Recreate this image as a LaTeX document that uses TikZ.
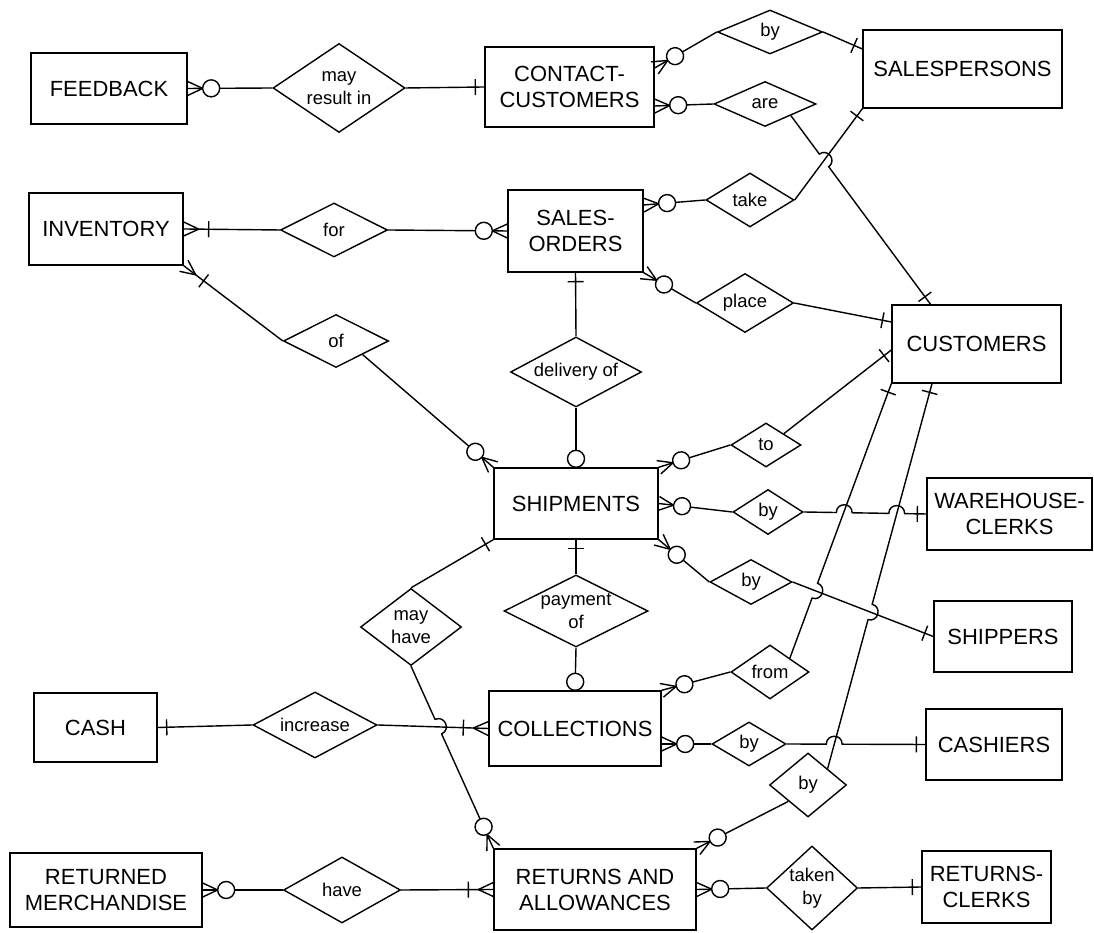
\documentclass[tikz,border=0pt]{standalone}
\usepackage{fontspec}
\setmainfont{Liberation Sans}
\usepackage{tikz}
\usetikzlibrary{calc,positioning,shapes.geometric,decorations.markings}
\newcommand\enfont{\fontsize{12.5}{14.8}\selectfont}
\newcommand\relfont{\fontsize{10.5}{13}\selectfont}
\begin{document}
\begin{tikzpicture}[x=0.02cm,y=0.02cm,line width=0.8pt]
    \tikzstyle{ent}=[rectangle,draw,font=\enfont,align=center,inner sep=0]
    \tikzstyle{rel}=[diamond,draw,font=\relfont,align=center,inner sep=0,aspect=1.6]
    \tikzstyle{hopl}=[bend left=90,looseness=1.7]
    \tikzstyle{hopr}=[bend right=90,looseness=1.7]
    \tikzstyle{one}=[postaction={decorate,decoration={markings,mark=at position 1 with {\draw (-0.18cm,-0.16cm) -- (-0.18cm,0.16cm);}}}]
    \tikzstyle{zero}=[postaction={decorate,decoration={markings,mark=at position 1 with {\draw[fill=white] (-0.17cm,0) circle (0.17cm);}}}]
    \tikzstyle{zmany}=[postaction={decorate,decoration={markings,mark=at position 1 with {\draw (-0.3cm,0) -- (0,0.14cm) (-0.3cm,0) -- (0,-0.14cm); \draw[fill=white] (-0.47cm,0) circle (0.17cm);}}}]
    \tikzstyle{omany}=[postaction={decorate,decoration={markings,mark=at position 1 with {\draw (-0.3cm,0) -- (0,0.14cm) (-0.3cm,0) -- (0,-0.14cm); \draw (-0.5cm,-0.16cm) -- (-0.5cm,0.16cm);}}}]
    \useasboundingbox (0,0) rectangle (1094,932);
    % entities
    \node[ent,minimum width=3.12cm,minimum height=1.42cm] (fb) at (109,843.5) {FEEDBACK};
    \node[ent,minimum width=3.38cm,minimum height=1.6cm] (cc) at (569.5,845) {CONTACT-\\CUSTOMERS};
    \node[ent,minimum width=3.98cm,minimum height=1.56cm] (sp) at (962.5,863) {SALESPERSONS};
    \node[ent,minimum width=3.08cm,minimum height=1.44cm] (inv) at (106,703) {INVENTORY};
    \node[ent,minimum width=2.7cm,minimum height=1.64cm] (so) at (575.5,701) {SALES-\\ORDERS};
    \node[ent,minimum width=3.38cm,minimum height=1.56cm] (cu) at (976.5,588) {CUSTOMERS};
    \node[ent,minimum width=3.28cm,minimum height=1.42cm] (sh) at (576,428.5) {SHIPMENTS};
    \node[ent,minimum width=3.3cm,minimum height=1.44cm] (wc) at (1009.5,418) {WAREHOUSE-\\CLERKS};
    \node[ent,minimum width=2.76cm,minimum height=1.42cm] (shp) at (1003,295.5) {SHIPPERS};
    \node[ent,minimum width=2.46cm,minimum height=1.38cm] (cash) at (95.5,204.5) {CASH};
    \node[ent,minimum width=3.44cm,minimum height=1.5cm] (col) at (575,203.5) {COLLECTIONS};
    \node[ent,minimum width=2.72cm,minimum height=1.42cm] (cas) at (994,187.5) {CASHIERS};
    \node[ent,minimum width=3.84cm,minimum height=1.48cm] (rm) at (106,42) {RETURNED\\MERCHANDISE};
    \node[ent,minimum width=4.04cm,minimum height=1.62cm] (ra) at (595,42.5) {RETURNS AND\\ALLOWANCES};
    \node[ent,minimum width=2.58cm,minimum height=1.44cm] (rc) at (986.5,45) {RETURNS-\\CLERKS};
    % relationships
    \node[rel,minimum width=2.64cm,minimum height=1.78cm,aspect=1.48] (rmri) at (339,844) {may\\result in};
    \node[rel,minimum width=2.1cm,minimum height=0.88cm] (rcby) at (770,900) {by};
    \node[rel,minimum width=2.04cm,minimum height=0.9cm] (rare) at (765,828) {are};
    \node[rel,minimum width=2.14cm,minimum height=1.08cm] (rfor) at (334,702) {for};
    \node[rel,minimum width=1.76cm,minimum height=1.08cm] (rtake) at (750,732) {take};
    \node[rel,minimum width=2.1cm,minimum height=1.06cm] (rof) at (336,591) {of};
    \node[rel,minimum width=1.94cm,minimum height=1.18cm] (rplace) at (745,629) {place};
    \node[rel,minimum width=2.62cm,minimum height=1.4cm,aspect=1.87] (rdlv) at (576,560) {delivery of};
    \node[rel,minimum width=1.4cm,minimum height=0.88cm] (rto) at (766,487) {to};
    \node[rel,minimum width=1.4cm,minimum height=0.9cm] (rwby) at (768,420) {by};
    \node[rel,minimum width=1.64cm,minimum height=0.9cm] (rsby) at (751,350) {by};
    \node[rel,minimum width=2.88cm,minimum height=1.44cm,aspect=2] (rpay) at (576,321) {payment\\of};
    \node[rel,minimum width=2.02cm,minimum height=1.54cm,aspect=1.3] (rmh) at (411,305) {may\\have};
    \node[rel,minimum width=1.56cm,minimum height=1.08cm] (rfrom) at (770,260) {from};
    \node[rel,minimum width=1.48cm,minimum height=0.88cm] (rcby2) at (749,188) {by};
    \node[rel,minimum width=2.48cm,minimum height=1.32cm] (rinc) at (315,207) {increase};
    \node[rel,minimum width=1.54cm,minimum height=1.28cm] (rrby) at (808,147) {by};
    \node[rel,minimum width=2.34cm,minimum height=1.32cm] (rhave) at (342,42) {have};
    \node[rel,minimum width=1.82cm,minimum height=1.68cm,aspect=1.08] (rtkb) at (812,44) {taken\\by};
    % attach points on the boxes
    \coordinate (ccA) at ($(cc.east)+(0,19)$);
    \coordinate (ccB) at ($(cc.east)+(0,-19)$);
    \coordinate (spA) at ($(sp.west)+(0,20)$);
    \coordinate (soA) at ($(so.east)+(0,26)$);
    \coordinate (cuA) at ($(cu.north)+(-46,0)$);
    \coordinate (cuB) at ($(cu.west)+(0,22)$);
    \coordinate (cuC) at ($(cu.west)+(0,-6)$);
    \coordinate (cuD) at ($(cu.south)+(-44.5,0)$);
    \coordinate (colA) at ($(col.east)+(0,-15.5)$);
    % connectors
    \draw[zmany] (rmri.west) -- (fb.east);
    \draw[one] (rmri.east) -- (cc.west);
    \draw[zmany] (rcby.west) -- (ccA);
    \draw[one] (rcby.east) -- (spA);
    \draw[zmany] (rare.west) -- (ccB);
    \draw[one] (rare.south east) -- ($(rare.south east)!0.204!(cuA)$) to[hopl] ($(rare.south east)!0.271!(cuA)$) -- (cuA);
    \draw[omany] (rfor.west) -- (inv.east);
    \draw[zmany] (rfor.east) -- (so.west);
    \draw[zmany] (rtake.west) -- (soA);
    \draw[one] (rtake.east) -- (sp.south west);
    \draw[zmany] (rplace.west) -- (so.south east);
    \draw[one] (rplace.east) -- (cuB);
    \draw[one] (rdlv.north) -- (so.south);
    \draw[zero] (rdlv.south) -- (sh.north);
    \draw[omany] (rof.west) -- (inv.south east);
    \draw[zmany] (rof.south east) -- (sh.north west);
    \draw[zmany] (rto.west) -- (sh.north east);
    \draw[one] (rto.north east) -- (cuC);
    \draw[zmany] (rwby.west) -- (sh.east);
    \draw[one] (rwby.east) -- ($(rwby.east)!0.266!(wc.west)$) to[hopl] ($(rwby.east)!0.395!(wc.west)$)
      -- ($(rwby.east)!0.694!(wc.west)$) to[hopl] ($(rwby.east)!0.823!(wc.west)$) -- (wc.west);
    \draw[zmany] (rsby.west) -- (sh.south east);
    \draw[one] (rsby.east) -- (shp.west);
    \draw[one] (rpay.north) -- (sh.south);
    \draw[zero] (rpay.south) -- (col.north);
    \draw[one] (rmh.north) -- (sh.south west);
    \draw[zmany] (rmh.south) -- ($(rmh.south)!0.292!(ra.north west)$) to[hopl] ($(rmh.south)!0.372!(ra.north west)$) -- (ra.north west);
    \draw[one] (rinc.west) -- (cash.east);
    \draw[omany] (rinc.east) -- (col.west);
    \draw[zmany] (rfrom.west) -- (col.north east);
    \draw[one] (rfrom.north east) -- ($(rfrom.north east)!0.219!(cu.south west)$) to[hopr] ($(rfrom.north east)!0.273!(cu.south west)$) -- (cu.south west);
    \draw[zmany] (rcby2.west) -- (colA);
    \draw[one] (rcby2.east) -- ($(rcby2.east)!0.286!(cas.west)$) to[hopl] ($(rcby2.east)!0.4!(cas.west)$) -- (cas.west);
    \draw[one] (rrby.north east) -- ($(rrby.north east)!0.387!(cuD)$) to[hopr] ($(rrby.north east)!0.427!(cuD)$) -- (cuD);
    \draw[zmany] (rrby.south west) -- (ra.north east);
    \draw[zmany] (rhave.west) -- (rm.east);
    \draw[omany] (rhave.east) -- (ra.west);
    \draw[zmany] (rtkb.west) -- (ra.east);
    \draw[one] (rtkb.east) -- (rc.west);
\end{tikzpicture}
\end{document}
